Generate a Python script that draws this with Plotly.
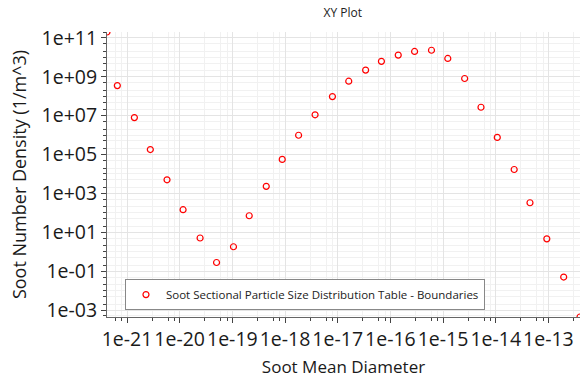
import numpy as np
import plotly.graph_objects as go

# Data (log-log scatter)
diameter = [4.17e-22, 6.55e-22, 1.38e-21, 2.77e-21, 5.75e-21, 1.16e-20, 2.44e-20, 5.01e-20,
            1.05e-19, 2.09e-19, 4.40e-19, 8.85e-19, 1.81e-18, 3.72e-18, 7.94e-18, 1.62e-17,
            3.39e-17, 6.76e-17, 1.41e-16, 2.88e-16, 6.03e-16, 1.23e-15, 2.57e-15, 5.25e-15,
            1.07e-14, 2.24e-14, 4.47e-14, 9.33e-14, 1.95e-13, 3.98e-13]
density = [2.0e11, 3.5e8, 7.9e6, 1.8e5, 5.0e3, 1.45e2, 5.1, 0.28,
           1.8, 71, 2.3e3, 5.6e4, 9.8e5, 1.1e7, 9.5e7, 5.9e8,
           2.2e9, 6.2e9, 1.3e10, 2.0e10, 2.3e10, 8.7e9, 8.1e8, 2.7e7,
           7.6e5, 1.7e4, 3.3e2, 4.6, 0.05, 4.4e-4]

x_tickvals = [1e-21, 1e-20, 1e-19, 1e-18, 1e-17, 1e-16, 1e-15, 1e-14, 1e-13]
x_ticktext = ["1e-21", "1e-20", "1e-19", "1e-18", "1e-17", "1e-16", "1e-15", "1e-14", "1e-13"]
y_tickvals = [1e-3, 1e-1, 1e1, 1e3, 1e5, 1e7, 1e9, 1e11]
y_ticktext = ["1e-03", "1e-01", "1e+01", "1e+03", "1e+05", "1e+07", "1e+09", "1e+11"]

series_name = "Soot Sectional Particle Size Distribution Table - Boundaries"

x_minor = [m * 10.0 ** k for k in range(-22, -12) for m in (3, 6, 8)]
y_minor = [m * 10.0 ** k for k in range(-4, 12) for m in (2, 5)] + [10.0 ** k for k in range(-4, 12, 2)]

FONT = "Open Sans"

fig = go.Figure()
fig.add_trace(go.Scatter(
    x=diameter, y=density, mode="markers", name=series_name,
    marker=dict(symbol="circle-open", color="#ff0000", size=6, line=dict(width=1.2, color="#ff0000")),
    showlegend=True,
))

axis_common = dict(
    type="log", showline=True, linecolor="#666666", linewidth=1,
    ticks="outside", ticklen=5, tickcolor="#444444",
    showgrid=True, gridcolor="#e4e4e4", gridwidth=1,
    zeroline=False, mirror=False, automargin=False, tickangle=0,
    tickfont=dict(family=FONT, size=19.5, color="#1a1a1a"),
)

fig.update_layout(
    width=587, height=378,
    margin=dict(l=107, r=7, t=32, b=61, autoexpand=False),
    paper_bgcolor="white", plot_bgcolor="white",
    title=dict(text="XY Plot", x=0.5841, xanchor="center", y=0.967, yanchor="middle",
               font=dict(family=FONT, size=12, color="#222222"), automargin=False),
    xaxis=dict(
        **axis_common,
        range=[np.log10(min(diameter)), np.log10(max(diameter))],
        tickvals=x_tickvals, ticktext=x_ticktext,
        title=dict(text="Soot Mean Diameter", font=dict(family=FONT, size=17, color="#1a1a1a"), standoff=10),
        minor=dict(tickvals=x_minor, ticks="outside", ticklen=3, tickcolor="#444444",
                   showgrid=True, gridcolor="#f1f1f1", gridwidth=1),
    ),
    yaxis=dict(
        **axis_common,
        range=[np.log10(min(density)), np.log10(max(density))],
        tickvals=y_tickvals, ticktext=y_ticktext,
        title=dict(text="Soot Number Density (1/m^3)", font=dict(family=FONT, size=18, color="#1a1a1a"), standoff=10),
        minor=dict(tickvals=y_minor, ticks="outside", ticklen=3, tickcolor="#444444",
                   showgrid=True, gridcolor="#f1f1f1", gridwidth=1),
    ),
    legend=dict(
        x=0.038, y=0.133, xanchor="left", yanchor="top",
        bgcolor="white", bordercolor="#888888", borderwidth=1,
        font=dict(family=FONT, size=11.5, color="#222222"),
    ),
)

fig.write_html("out.html", config={"displayModeBar": False},
               post_script="document.body.style.margin='0';document.body.style.overflow='hidden';")
